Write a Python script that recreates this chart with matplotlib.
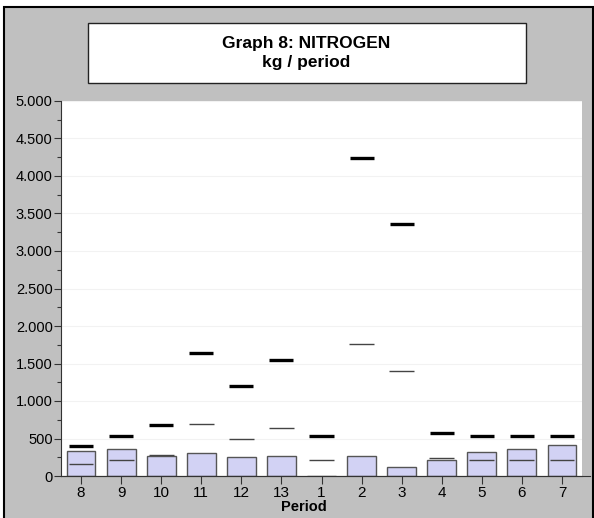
import matplotlib
matplotlib.use("Agg")
import matplotlib.pyplot as plt
from matplotlib.patches import Rectangle
from matplotlib.ticker import MultipleLocator, FuncFormatter

plt.rcParams['font.family'] = ['Liberation Sans', 'DejaVu Sans']

periods = ['8', '9', '10', '11', '12', '13', '1', '2', '3', '4', '5', '6', '7']
bars = [334, 366, 263, 313, 259, 263, 0, 263, 120, 219, 321, 366, 410]
thick = [401, 527, 678, 1636, 1203, 1543, 527, 4243, 3365, 580, 527, 527, 527]
thin = [166, 219, 277, 687, 500, 642, 219, 1765, 1400, 246, 219, 219, 219]

W, H = 594, 518
fig = plt.figure(figsize=(W / 100, H / 100), dpi=100, facecolor='white')

# grey panel with black frame
fig.add_artist(Rectangle((4 / W, -0.02), (593 - 4) / W, (518 - 7) / H + 0.02,
                         transform=fig.transFigure, facecolor='#C0C0C0',
                         edgecolor='black', lw=1.5, zorder=0))

# title box
fig.add_artist(Rectangle((88 / W, (H - 83) / H), (526 - 88) / W, 60 / H,
                         transform=fig.transFigure, facecolor='white',
                         edgecolor='#222222', lw=1.0, zorder=1))
fig.text(306 / W, 1 - 53 / H, "Graph 8: NITROGEN\nkg / period", ha='center', va='center',
         fontsize=12.5, fontweight='bold', linespacing=1.3, zorder=2)

ax = fig.add_axes([61 / W, (H - 476) / H, (582 - 61) / W, 375 / H])
ax.set_facecolor('white')
x = list(range(len(periods)))

ax.bar(x, bars, width=0.72, color='#D2D2F4', edgecolor='#555555', lw=1.0, zorder=2)
ax.hlines(thin, [i - 0.31 for i in x], [i + 0.31 for i in x], colors='#444444', lw=1.0, zorder=3)
ax.hlines(thick, [i - 0.3 for i in x], [i + 0.3 for i in x], colors='black', lw=2.4, zorder=4)

ax.set_xlim(-0.5, 12.5)
ax.set_ylim(0, 5000)
ax.set_xticks(x)
ax.set_xticklabels(periods, fontsize=11)
ax.yaxis.set_major_locator(MultipleLocator(500))
ax.yaxis.set_minor_locator(MultipleLocator(250))
ax.yaxis.set_major_formatter(FuncFormatter(lambda v, p: f"{v:,.0f}".replace(',', '.')))
ax.tick_params(axis='y', labelsize=10.5, length=5, width=0.8, color='#333333', pad=1)
ax.tick_params(axis='y', which='minor', length=3, width=0.8, color='#333333')
ax.tick_params(axis='x', length=6, width=0.8, color='#333333', pad=1)
ax.yaxis.grid(True, color='#f2f2f2', lw=0.8)
ax.set_axisbelow(True)

for s in ['top', 'right']:
    ax.spines[s].set_visible(False)
for s in ['left', 'bottom']:
    ax.spines[s].set_color('#333333')
    ax.spines[s].set_linewidth(0.8)
ax.plot([0, 1.015], [0, 0], transform=ax.transAxes, color='#333333', lw=0.8, clip_on=False, zorder=5)

ax.set_xlabel("Period", fontsize=10.5, fontweight='bold', va='baseline')
ax.xaxis.set_label_coords(0.466, -0.094)

fig.savefig("out.png", dpi=100, facecolor=fig.get_facecolor())
